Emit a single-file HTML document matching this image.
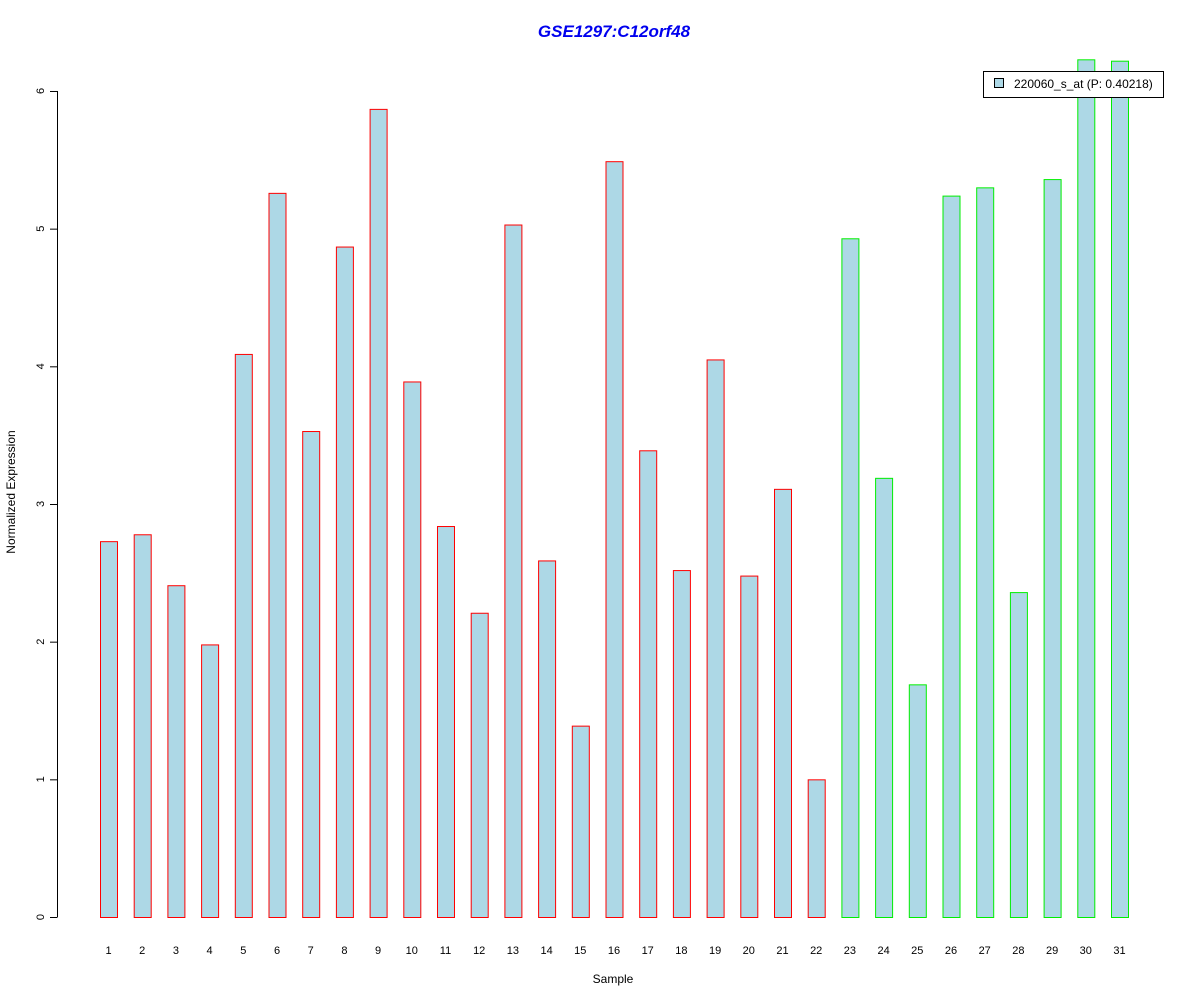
<!DOCTYPE html>
<html><head><meta charset="utf-8"><style>
body{margin:0;background:#fff;}
svg text{font-family:"Liberation Sans",Arial,sans-serif;}
</style></head><body>
<svg id="chart" width="1200" height="1000" xmlns="http://www.w3.org/2000/svg">
<rect width="1200" height="1000" fill="#fff"/>
<text x="614" y="37" text-anchor="middle" font-size="17" font-weight="bold" font-style="italic" fill="#0000ee">GSE1297:C12orf48</text>
<text x="613" y="983" text-anchor="middle" font-size="12">Sample</text>
<text transform="translate(15,492) rotate(-90)" text-anchor="middle" font-size="12">Normalized Expression</text>
<g id="yaxis"></g>
<g id="bars"></g>
<g id="xlabels"></g>
<g>
<rect x="983.5" y="71.5" width="180" height="26" fill="#fff" stroke="#000"/>
<rect x="994.5" y="78.5" width="9" height="9" fill="#add8e6" stroke="#000"/>
<text x="1014" y="88" font-size="12">220060_s_at (P: 0.40218)</text>
</g>
</svg>
<script>
const categories = ["1","2","3","4","5","6","7","8","9","10","11","12","13","14","15","16","17","18","19","20","21","22","23","24","25","26","27","28","29","30","31"];
const values = [2.73,2.78,2.41,1.98,4.09,5.26,3.53,4.87,5.87,3.89,2.84,2.21,5.03,2.59,1.39,5.49,3.39,2.52,4.05,2.48,3.11,1.00,4.93,3.19,1.69,5.24,5.30,2.36,5.36,6.23,6.22];
const groups = ["r","r","r","r","r","r","r","r","r","r","r","r","r","r","r","r","r","r","r","r","r","r","g","g","g","g","g","g","g","g","g"];
const yTicks = [0,1,2,3,4,5,6];
const NS="http://www.w3.org/2000/svg";
const y = v => 917 - v*137.67;
const x = i => 100 + i*33.7;
function mk(tag, attrs, parent){const e=document.createElementNS(NS,tag);for(const k in attrs)e.setAttribute(k,attrs[k]);parent.appendChild(e);return e;}
const ya=document.getElementById('yaxis');
const axl=mk('line',{x1:57.5,x2:57.5,y1:y(0),y2:y(6),stroke:'#000'},ya);


yTicks.forEach(t=>{
  const l=mk('line',{x1:50,x2:57.5,y1:y(t)+0.5,y2:y(t)+0.5,stroke:'#000'},ya);
  
  
  const tx=mk('text',{transform:`translate(44,${y(t)}) rotate(-90)`,'text-anchor':'middle','font-size':11},ya);
  tx.textContent=t;
  
  
});
const bg=document.getElementById('bars'), xl=document.getElementById('xlabels');
values.forEach((v,i)=>{
  const r=mk('rect',{x:x(i)+0.5,y:y(v)+0.5,width:17,height:y(0)-y(v),fill:'#add8e6',stroke:groups[i]==='r'?'#ff0000':'#00ee00'},bg);
  
  
  const t=mk('text',{x:x(i)+8.5,y:954,'text-anchor':'middle','font-size':11},xl);
  t.textContent=categories[i];
  
  
});
</script>
</body></html>
